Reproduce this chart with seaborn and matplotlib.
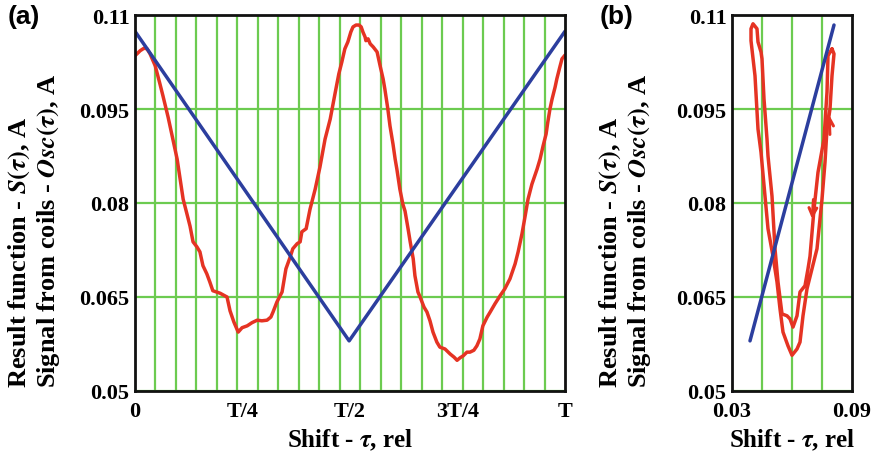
import matplotlib
matplotlib.use("Agg")
import matplotlib.pyplot as plt
import seaborn as sns

# ── DATA ─────────────────────────────────────────────────────
# (a) result function S(tau): V shape over one period
s_tau = [0.0, 0.498, 1.0]
s_val = [0.1074, 0.0580, 0.1074]

# (a) signal from coils Osc(tau)
osc_tau = [0.000, 0.012, 0.021, 0.028, 0.035, 0.047, 0.058, 0.065, 0.077, 0.088,
           0.098, 0.105, 0.112, 0.121, 0.128, 0.135, 0.144, 0.151, 0.158, 0.167,
           0.174, 0.181, 0.198, 0.214, 0.221, 0.230, 0.240, 0.249, 0.261, 0.272,
           0.284, 0.295, 0.307, 0.316, 0.321, 0.330, 0.342, 0.351, 0.361, 0.367,
           0.377, 0.384, 0.388, 0.398, 0.407, 0.419, 0.430, 0.442, 0.454, 0.465,
           0.474, 0.481, 0.488, 0.495, 0.502, 0.507, 0.514, 0.521, 0.526, 0.530,
           0.535, 0.537, 0.542, 0.547, 0.554, 0.563, 0.570, 0.577, 0.581, 0.588,
           0.593, 0.600, 0.605, 0.609, 0.616, 0.623, 0.628, 0.635, 0.640, 0.647,
           0.651, 0.658, 0.663, 0.672, 0.679, 0.686, 0.693, 0.702, 0.709, 0.721,
           0.733, 0.742, 0.749, 0.756, 0.763, 0.772, 0.779, 0.788, 0.795, 0.802,
           0.809, 0.819, 0.826, 0.837, 0.849, 0.860, 0.872, 0.884, 0.891, 0.900,
           0.907, 0.914, 0.923, 0.935, 0.942, 0.949, 0.956, 0.960, 0.965, 0.970,
           0.977, 0.981, 0.988, 0.993, 1.000]
osc_val = [0.1035, 0.1043, 0.1047, 0.1046, 0.1038, 0.1019, 0.0990, 0.0971, 0.0937, 0.0902,
           0.0870, 0.0838, 0.0806, 0.0782, 0.0763, 0.0738, 0.0730, 0.0722, 0.0700, 0.0687,
           0.0674, 0.0660, 0.0656, 0.0650, 0.0628, 0.0610, 0.0594, 0.0601, 0.0604, 0.0609,
           0.0613, 0.0612, 0.0613, 0.0618, 0.0626, 0.0642, 0.0658, 0.0695, 0.0714, 0.0727,
           0.0735, 0.0738, 0.0754, 0.0759, 0.0790, 0.0822, 0.0857, 0.0902, 0.0934, 0.0974,
           0.1006, 0.1025, 0.1046, 0.1057, 0.1073, 0.1081, 0.1084, 0.1084, 0.1081, 0.1073,
           0.1065, 0.1059, 0.1062, 0.1054, 0.1049, 0.1041, 0.1019, 0.0998, 0.0982, 0.0950,
           0.0923, 0.0894, 0.0870, 0.0854, 0.0822, 0.0798, 0.0787, 0.0759, 0.0738, 0.0711,
           0.0684, 0.0658, 0.0650, 0.0634, 0.0626, 0.0612, 0.0594, 0.0578, 0.0570, 0.0567,
           0.0559, 0.0554, 0.0549, 0.0553, 0.0556, 0.0562, 0.0562, 0.0565, 0.0572, 0.0583,
           0.0604, 0.0618, 0.0626, 0.0639, 0.0652, 0.0663, 0.0679, 0.0703, 0.0722, 0.0751,
           0.0778, 0.0806, 0.0830, 0.0854, 0.0870, 0.0891, 0.0910, 0.0929, 0.0950, 0.0966,
           0.0985, 0.0998, 0.1017, 0.1030, 0.1036]

# (b) loop of Osc vs shift, and the straight S line
loop_x = [0.0800, 0.0780, 0.0775, 0.0760, 0.0730, 0.0710, 0.0690, 0.0680, 0.0665, 0.0640,
          0.0625, 0.0605, 0.0590, 0.0575, 0.0550, 0.0530, 0.0515, 0.0500, 0.0480, 0.0475,
          0.0460, 0.0450, 0.0445, 0.0430, 0.0425, 0.0405, 0.0395, 0.0395, 0.0415, 0.0430,
          0.0445, 0.0465, 0.0480, 0.0505, 0.0525, 0.0540, 0.0555, 0.0580, 0.0600, 0.0625,
          0.0640, 0.0655, 0.0675, 0.0700, 0.0725, 0.0750, 0.0765, 0.0775, 0.0790, 0.0800,
          0.0810, 0.0800]
loop_y = [0.1046, 0.1035, 0.0977, 0.0902, 0.0849, 0.0790, 0.0715, 0.0695, 0.0668, 0.0658,
          0.0620, 0.0602, 0.0615, 0.0620, 0.0623, 0.0674, 0.0727, 0.0811, 0.0875, 0.0902,
          0.0966, 0.1030, 0.1041, 0.1057, 0.1078, 0.1086, 0.1078, 0.1059, 0.1003, 0.0918,
          0.0881, 0.0811, 0.0759, 0.0715, 0.0674, 0.0631, 0.0594, 0.0572, 0.0557, 0.0567,
          0.0578, 0.0620, 0.0663, 0.0695, 0.0727, 0.0806, 0.0865, 0.0918, 0.0950, 0.1003,
          0.1038, 0.1046]
line_x = [0.0390, 0.0810]
line_y = [0.0580, 0.1084]

x_ticks_a = [0, 0.25, 0.5, 0.75, 1.0]
x_labels_a = ["0", "T/4", "T/2", "3T/4", "T"]
y_ticks = [0.05, 0.065, 0.08, 0.095, 0.11]
y_labels = ["0.05", "0.065", "0.08", "0.095", "0.11"]

RED = "#E53323"
BLUE = "#2C3E9E"
GREEN = "#6CCB50"

# ── STYLE ────────────────────────────────────────────────────
sns.set_style("white")
plt.rcParams["font.family"] = ["Liberation Serif", "DejaVu Serif"]
plt.rcParams["font.weight"] = "bold"
plt.rcParams["mathtext.fontset"] = "stix"
plt.rcParams["text.color"] = "black"
plt.rcParams["axes.labelcolor"] = "black"
plt.rcParams["xtick.color"] = "black"
plt.rcParams["ytick.color"] = "black"

fig = plt.figure(figsize=(8.77, 4.56), dpi=100)
ax_a = fig.add_axes([135 / 877, 64 / 456, 430 / 877, 376 / 456])
ax_b = fig.add_axes([732 / 877, 64 / 456, 120 / 877, 376 / 456])

ylab = "Result function - $S(\\tau)$, A\nSignal from coils - $\\mathbfit{Osc}(\\tau)$, A"

# ── PANEL (a) ────────────────────────────────────────────────
sns.lineplot(x=osc_tau, y=osc_val, ax=ax_a, color=RED, lw=2.5,
             sort=False, estimator=None)
sns.lineplot(x=s_tau, y=s_val, ax=ax_a, color=BLUE, lw=2.5,
             sort=False, estimator=None)
ax_a.set_xlim(0, 1)
ax_a.set_xticks(x_ticks_a)
ax_a.set_xticklabels(x_labels_a)
ax_a.set_xticks([k / 21 for k in range(1, 21)], minor=True)
ax_a.xaxis.grid(True, which="minor", color=GREEN, lw=1.6)
ax_a.xaxis.grid(False, which="major")

# ── PANEL (b) ────────────────────────────────────────────────
sns.lineplot(x=loop_x, y=loop_y, ax=ax_b, color=RED, lw=2.5,
             sort=False, estimator=None)
sns.lineplot(x=line_x, y=line_y, ax=ax_b, color=BLUE, lw=2.5,
             sort=False, estimator=None)
ax_b.annotate("", xy=(0.0785, 0.0945), xytext=(0.0790, 0.0905),
              arrowprops=dict(arrowstyle="->", color=RED, lw=2.2, mutation_scale=14))
ax_b.annotate("", xy=(0.0700, 0.0770), xytext=(0.0708, 0.0810),
              arrowprops=dict(arrowstyle="->", color=RED, lw=2.2, mutation_scale=14))
ax_b.set_xlim(0.03, 0.09)
ax_b.set_xticks([0.03, 0.09])
ax_b.set_xticklabels(["0.03", "0.09"])
ax_b.set_xticks([0.045, 0.06, 0.075], minor=True)
ax_b.xaxis.grid(True, which="minor", color=GREEN, lw=1.6)
ax_b.xaxis.grid(False, which="major")

for ax, lx, ly in [(ax_a, -0.170, 0.43), (ax_b, -0.658, 0.43)]:
    ax.set_ylim(0.05, 0.11)
    ax.set_yticks(y_ticks)
    ax.set_yticklabels(y_labels)
    ax.yaxis.grid(True, which="major", color=GREEN, lw=1.6)
    ax.set_axisbelow(True)
    ax.tick_params(which="both", length=0, labelsize=16)
    ax.tick_params(axis="x", pad=7)
    ax.tick_params(axis="y", pad=4)
    for sp in ax.spines.values():
        sp.set_color("#111111")
        sp.set_linewidth(2.0)
    ax.set_xlabel("Shift - $\\tau$, rel", fontsize=18, fontweight="bold")
    ax.xaxis.set_label_coords(0.5, -0.096)
    ax.set_ylabel(ylab, fontsize=19, fontweight="bold", multialignment="left",
                  linespacing=1.15)
    ax.yaxis.set_label_coords(lx, ly)

fig.text(8 / 877, 1 - 5 / 456, "(a)", family=["Liberation Sans", "DejaVu Sans"],
         fontsize=19, fontweight="bold", va="top")
fig.text(600 / 877, 1 - 5 / 456, "(b)", family=["Liberation Sans", "DejaVu Sans"],
         fontsize=19, fontweight="bold", va="top")

fig.savefig("out.png", dpi=100)
